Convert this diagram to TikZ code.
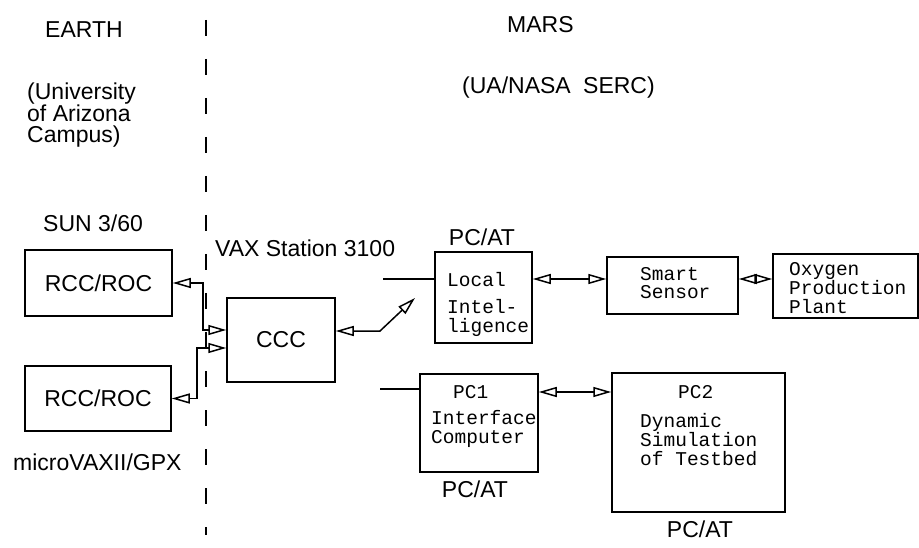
\documentclass[tikz,border=0pt]{standalone}
\usepackage{fontspec}
\setmainfont{Liberation Sans}
\setmonofont{Liberation Mono}
\usetikzlibrary{arrows.meta}
\usetikzlibrary{positioning}

\tikzset{
  unitbox/.style={draw, line width=1.5pt, inner sep=0pt, font=\fontsize{23}{21.5}\selectfont},
  sitetext/.style={inner sep=0pt, align=left, anchor=base west, font=\fontsize{23}{21.5}\selectfont},
  monotext/.style={inner sep=0pt, align=left, anchor=base west, font=\ttfamily\fontsize{19.5}{19}\selectfont},
  tipopen/.tip={Triangle[open, length=18pt, width=10pt, line width=1.5pt]},
  duplex/.style={line width=1.5pt, tipopen-tipopen},
}

\begin{document}
\begin{tikzpicture}[x=1pt, y=-1pt]
\useasboundingbox (0,0) rectangle (919,548);
% earth / mars split
\draw[line width=1.5pt, dash pattern=on 16pt off 23pt] (206,20) -- (206,535);
\node[sitetext] (earth) at (45,38) {EARTH};
\node[sitetext] (univ) at (27,143) {(University\\of Arizona\\Campus)};
\node[sitetext] (mars) at (507,33) {MARS};
\node[sitetext] (serc) at (462,94) {(UA/NASA\hspace{6pt} SERC)};
\node[sitetext] (sun) at (43,232) {SUN 3/60};
\node[sitetext] (vax) at (215,257) {VAX Station 3100};
\node[sitetext] (microvax) at (13,470) {microVAXII/GPX};
\node[sitetext, anchor=base] (pcattop) at (482,246) {PC/AT};
\node[sitetext, anchor=base] (pcatmid) at (475,497) {PC/AT};
\node[sitetext, anchor=base] (pcatlow) at (700,537) {PC/AT};
% boxes
\node[unitbox, minimum width=147pt, minimum height=66pt] (rcca) at (98.5,283) {RCC/ROC};
\node[unitbox, minimum width=146pt, minimum height=65pt] (rccb) at (98,398.5) {RCC/ROC};
\node[unitbox, minimum width=108pt, minimum height=84pt] (ccc) at (281,340) {CCC};
\node[unitbox, minimum width=97pt, minimum height=91pt] (local) at (483.5,297.5) {};
\node[unitbox, minimum width=131pt, minimum height=57pt] (smart) at (672.5,285.5) {};
\node[unitbox, minimum width=145pt, minimum height=64pt] (oxygen) at (845.5,286) {};
\node[unitbox, minimum width=118pt, minimum height=98pt] (pcone) at (479,423) {};
\node[unitbox, minimum width=173pt, minimum height=139pt] (pctwo) at (698.5,442.5) {};
% box texts
\node[monotext] (localtxt) at (447,333) {Local\\[9pt]Intel-\\ligence};
\node[monotext] (smarttxt) at (640,299) {Smart\\Sensor};
\node[monotext] (oxygentxt) at (789,313) {Oxygen\\Production\\Plant};
\node[monotext] (pconehead) at (453,398) {PC1};
\node[monotext] (pconetxt) at (431,443) {Interface\\Computer};
\node[monotext] (pctwohead) at (678,398) {PC2};
\node[monotext] (pctwotxt) at (640,465) {Dynamic\\Simulation\\of Testbed};
% links
\coordinate (relay) at (380,331);
\coordinate (uplink) at (415,298);
\coordinate (stuba) at (383,279);
\coordinate (stubb) at (380,389);
\draw[duplex] (rcca.east) -- ++(30,0) |- ([yshift=10pt]ccc.west);
\draw[duplex] (rccb.east) -- ++(25,0) |- ([yshift=-8pt]ccc.west);
\draw[duplex] ([yshift=9pt]ccc.east) -- (relay) -- (uplink);
\draw[line width=1.5pt] (stuba) -- (stuba -| local.west);
\draw[line width=1.5pt] (stubb) -- (stubb -| pcone.west);
\draw[duplex] ([yshift=18.5pt]local.east) -- ([yshift=18.5pt]local.east -| smart.west);
\draw[duplex] ([yshift=6.5pt]smart.east) -- ([yshift=6.5pt]smart.east -| oxygen.west);
\draw[duplex] ([yshift=31pt]pcone.east) -- ([yshift=31pt]pcone.east -| pctwo.west);
\end{tikzpicture}
\end{document}
